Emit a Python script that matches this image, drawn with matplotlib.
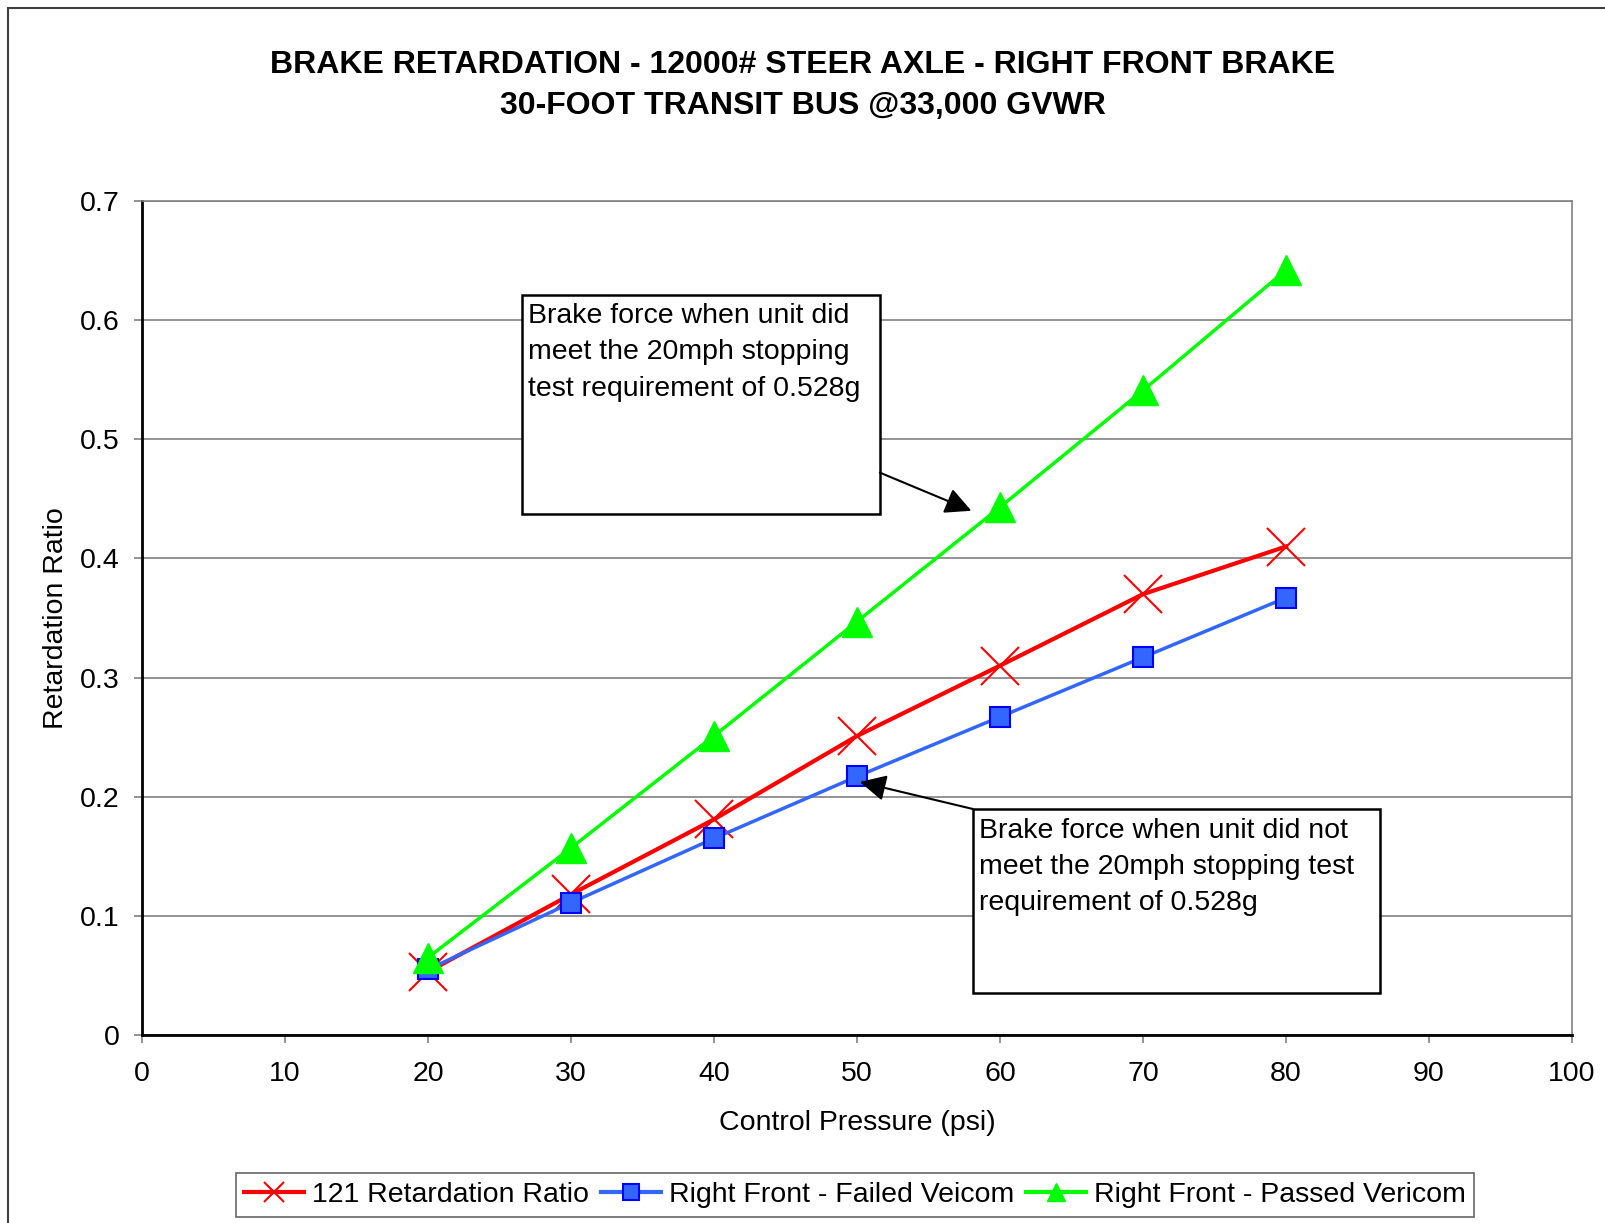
import matplotlib.pyplot as plt
from matplotlib.lines import Line2D
from matplotlib.patches import Rectangle

plt.rcParams['font.family'] = ['Liberation Sans', 'DejaVu Sans']

pressure = [20, 30, 40, 50, 60, 70, 80]
ratio_121 = [0.053, 0.118, 0.181, 0.251, 0.310, 0.370, 0.410]
failed_veicom = [0.055, 0.111, 0.165, 0.217, 0.267, 0.317, 0.367]
passed_vericom = [0.065, 0.157, 0.251, 0.347, 0.443, 0.541, 0.642]

x_ticks = [0, 10, 20, 30, 40, 50, 60, 70, 80, 90, 100]
y_ticks = [0, 0.1, 0.2, 0.3, 0.4, 0.5, 0.6, 0.7]
y_tick_labels = ['0', '0.1', '0.2', '0.3', '0.4', '0.5', '0.6', '0.7']

W, H = 1606, 1223
FS = 20.5
fig = plt.figure(figsize=(W / 100, H / 100), dpi=100)

# outer chart border (only left/top edges visible in the reference)
fig.patches.append(Rectangle((8 / W, -0.1), 1.2, 1 - 8 / H + 0.1,
                             transform=fig.transFigure, fill=False,
                             edgecolor='#404040', lw=1.5))

left, right, top, bottom = 142, 1572, 201, 1035
ax = fig.add_axes([left / W, 1 - bottom / H, (right - left) / W, (bottom - top) / H])

ax.plot(pressure, ratio_121, color='#ff0000', lw=3, marker='x', ms=28,
        mew=1.5, zorder=3)
ax.plot(pressure, failed_veicom, color='#3366ff', lw=2.5, marker='s', ms=14,
        mfc='#3366ff', mec='#0000ff', mew=1.5, zorder=4)
ax.plot(pressure, passed_vericom, color='#00ff00', lw=2.5, marker='^', ms=21,
        mfc='#00ff00', mec='#00ff00', zorder=5)

ax.set_xlim(0, 100)
ax.set_ylim(0, 0.7)
ax.set_xticks(x_ticks)
ax.set_yticks(y_ticks)
ax.set_yticklabels(y_tick_labels)
ax.tick_params(direction='out', length=6, width=1.2, color='#808080',
               labelsize=FS)
ax.tick_params(axis='x', pad=13)
ax.tick_params(axis='y', pad=10)
ax.yaxis.grid(True, color='#808080', lw=1.2)
ax.set_axisbelow(True)
for side in ['top', 'right']:
    ax.spines[side].set_color('#808080')
    ax.spines[side].set_linewidth(1.2)
for side in ['left', 'bottom']:
    ax.spines[side].set_color('black')
    ax.spines[side].set_linewidth(2)

ax.set_xlabel('Control Pressure (psi)', fontsize=FS, labelpad=16)
ax.set_ylabel('Retardation Ratio', fontsize=FS, labelpad=8)

fig.text(0.5, 1 - 65 / H, 'BRAKE RETARDATION - 12000# STEER AXLE - RIGHT FRONT BRAKE',
         ha='center', va='center', fontsize=23, fontweight='bold')
fig.text(0.5, 1 - 106 / H, '30-FOOT TRANSIT BUS @33,000 GVWR',
         ha='center', va='center', fontsize=23, fontweight='bold')

# callout boxes
ax.add_patch(Rectangle((26.55, 0.437), 51.6 - 26.55, 0.621 - 0.437,
                       facecolor='white', edgecolor='black', lw=1.8, zorder=6))
ax.text(27.0, 0.6145, 'Brake force when unit did\nmeet the 20mph stopping\ntest requirement of 0.528g',
        ha='left', va='top', fontsize=FS, linespacing=1.52, zorder=7)
ax.annotate('', xy=(58.0, 0.440), xytext=(51.6, 0.472),
            arrowprops=dict(arrowstyle='-|>,head_length=0.8,head_width=0.4',
                            color='black', lw=1.5, mutation_scale=20,
                            shrinkA=0, shrinkB=0), zorder=7)

ax.add_patch(Rectangle((58.1, 0.0353), 86.6 - 58.1, 0.1897 - 0.0353,
                       facecolor='white', edgecolor='black', lw=1.8, zorder=6))
ax.text(58.55, 0.1825, 'Brake force when unit did not\nmeet the 20mph stopping test\nrequirement of 0.528g',
        ha='left', va='top', fontsize=FS, linespacing=1.52, zorder=7)
ax.annotate('', xy=(50.2, 0.2124), xytext=(58.1, 0.1897),
            arrowprops=dict(arrowstyle='-|>,head_length=0.8,head_width=0.4',
                            color='black', lw=1.5, mutation_scale=20,
                            shrinkA=0, shrinkB=0), zorder=7)

handles = [
    Line2D([], [], color='#ff0000', lw=3, marker='x', ms=15, mew=1.5),
    Line2D([], [], color='#3366ff', lw=3, marker='s', ms=11, mfc='#3366ff',
           mec='#0000ff', mew=1.5),
    Line2D([], [], color='#00ff00', lw=3, marker='^', ms=13),
]
labels = ['121 Retardation Ratio', 'Right Front - Failed Veicom',
          'Right Front - Passed Vericom']
leg = fig.legend(handles, labels, loc='center', bbox_to_anchor=(855 / W, 1 - 1195 / H),
                 ncol=3, fontsize=FS, frameon=True, fancybox=False,
                 handlelength=2.1, handletextpad=0.3, columnspacing=0.4,
                 borderpad=0.3, borderaxespad=0)
leg.get_frame().set_edgecolor('#404040')
leg.get_frame().set_linewidth(1.2)

plt.savefig('out.png', dpi=100)
